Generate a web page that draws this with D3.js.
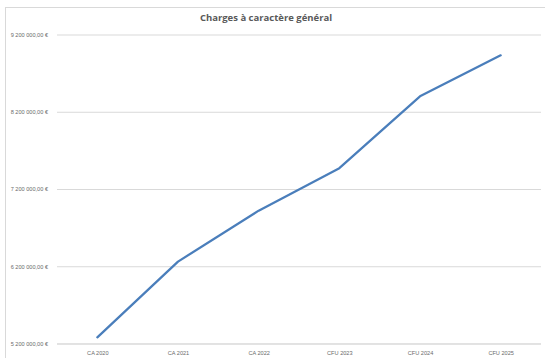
<!DOCTYPE html>
<html>
<head>
<meta charset="utf-8">
<script src="https://cdn.jsdelivr.net/npm/d3@7"></script>
<style>
  html, body { margin: 0; padding: 0; background: #fff; }
  svg { display: block; font-family: "Open Sans", "Liberation Sans", sans-serif; }
</style>
</head>
<body>
<svg id="chart" width="545" height="358"></svg>
<script>
// Budget periods and general-charges amounts (euros)
const categories = ["CA 2020", "CA 2021", "CA 2022", "CFU 2023", "CFU 2024", "CFU 2025"];
const charges = [5280000, 6260000, 6920000, 7470000, 8400000, 8930000];
const yTicks = [5200000, 6200000, 7200000, 8200000, 9200000];
const chartTitle = "Charges à caractère général";

const width = 545, height = 358;
const plot = { left: 57, right: 541, top: 34.5, bottom: 343.5 };

const fr = d3.formatLocale({
  decimal: ",",
  thousands: "\u00a0",
  grouping: [3],
  currency: ["", "\u00a0€"]
});
const fmt = fr.format("$,.2f");

const svg = d3.select("#chart");

// chart frame
svg.append("rect")
  .attr("x", 5.5).attr("y", 7.5)
  .attr("width", width + 10).attr("height", height + 10)
  .attr("fill", "#fff").attr("stroke", "#d9d9d9").attr("stroke-width", 1);

const x = d3.scalePoint().domain(categories).range([plot.left, plot.right]).padding(0.5);
const y = d3.scaleLinear().domain([yTicks[0], yTicks[yTicks.length - 1]]).range([plot.bottom, plot.top]);

// horizontal gridlines and value labels
const yAxis = d3.axisLeft(y).tickValues(yTicks).tickFormat(fmt).tickSize(-(plot.right - plot.left)).tickPadding(9);
const gy = svg.append("g").attr("transform", `translate(${plot.left},0)`).call(yAxis);
gy.select(".domain").remove();
gy.selectAll(".tick line").attr("stroke", "#d9d9d9").attr("stroke-width", 1);
gy.selectAll(".tick text").attr("fill", "#6b6b6b").attr("font-size", 5.6);

// category axis
const xAxis = d3.axisBottom(x).tickSize(0).tickPadding(8);
const gx = svg.append("g").attr("transform", `translate(0,${plot.bottom})`).call(xAxis);
gx.select(".domain").attr("stroke", "#d9d9d9").attr("d", `M${plot.left},0.5H${plot.right}`);
gx.selectAll(".tick text").attr("fill", "#6b6b6b").attr("font-size", 5.6);

// series line
const line = d3.line().x((d, i) => x(categories[i])).y(d => y(d));
svg.append("path")
  .datum(charges)
  .attr("d", line)
  .attr("fill", "none")
  .attr("stroke", "#4a7ebb")
  .attr("stroke-width", 2.25)
  .attr("stroke-linejoin", "round")
  .attr("stroke-linecap", "round");

// title
svg.append("text")
  .attr("x", 266).attr("y", 21)
  .attr("text-anchor", "middle")
  .attr("font-size", 9.5)
  .attr("font-weight", "bold")
  .attr("fill", "#595959")
  .text(chartTitle);
</script>
</body>
</html>
